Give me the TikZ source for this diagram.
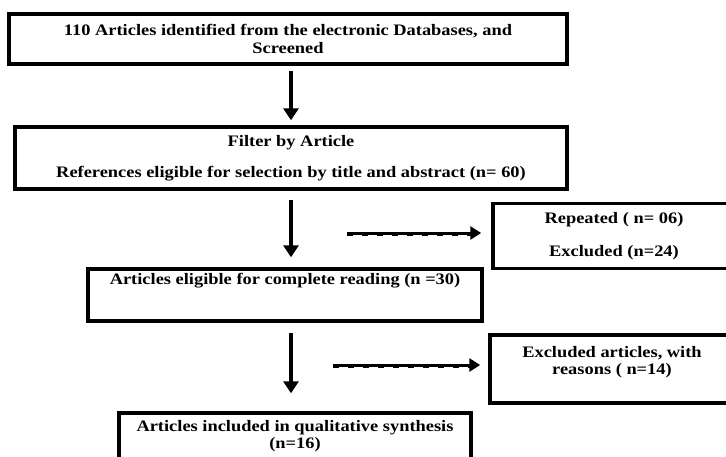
\documentclass[tikz,border=0pt]{standalone}
\usepackage{fontspec}
\setmainfont{Liberation Serif}
\newfontfamily\widebold[FakeStretch=1.15]{Liberation Serif Bold}
\usetikzlibrary{arrows.meta}

\begin{document}
\begin{tikzpicture}[x=1pt, y=-1pt,
  box/.style={draw, line width=3.5pt, inner sep=0pt, align=center,
    font=\widebold\fontsize{16}{17.5}\selectfont},
  flow/.style={line width=3.5pt, -{Triangle[width=15pt,length=12pt]}},
  sideflow/.style={line width=3pt, -{Triangle[width=13pt,length=11pt]},
    postaction={draw, -, line width=2pt, dash pattern=on 6pt off 9pt,
      transform canvas={yshift=-2pt}}}]
\useasboundingbox (0,0) rectangle (726,456);
% identification
\node[box, minimum width=558pt, minimum height=50pt] (ident) at (288,39)
  {110 Articles identified from the electronic Databases, and\\Screened};
% screening
\node[box, minimum width=552pt, minimum height=62pt] (screen) at (291,158)
  {Filter by Article\\[13pt]References eligible for selection by title and abstract (n= 60)};
\node[box, minimum width=242pt, minimum height=65pt] (rep) at (614,236)
  {Repeated ( n= 06)\\[15pt]Excluded (n=24)};
% eligibility
\node[box, minimum width=394pt, minimum height=52pt] (read) at (285,295)
  {Articles eligible for complete reading (n =30)\\[14pt]~};
\node[box, minimum width=244pt, minimum height=68pt] (excl) at (612,369)
  {Excluded articles, with\\reasons ( n=14)\\~};
% included
\node[box, minimum width=352pt, minimum height=56pt] (incl) at (295,441)
  {Articles included in qualitative synthesis\\(n=16)\\[-4pt]~};

\coordinate (d1) at (347,233);
\coordinate (d2) at (333,365);

\draw[flow, shorten <=5pt, shorten >=5pt] (ident.south -| screen.north) -- (screen.north);
\draw[flow, shorten <=9pt, shorten >=10pt] (screen.south) -- (screen.south |- read.north);
\draw[flow, shorten <=10pt, shorten >=18pt] (read.south -| screen.south) -- (screen.south |- incl.north);
\draw[sideflow, shorten >=10pt] (d1) -- (d1 -| rep.west);
\draw[sideflow, shorten >=8pt] (d2) -- (d2 -| excl.west);
\end{tikzpicture}
\end{document}
